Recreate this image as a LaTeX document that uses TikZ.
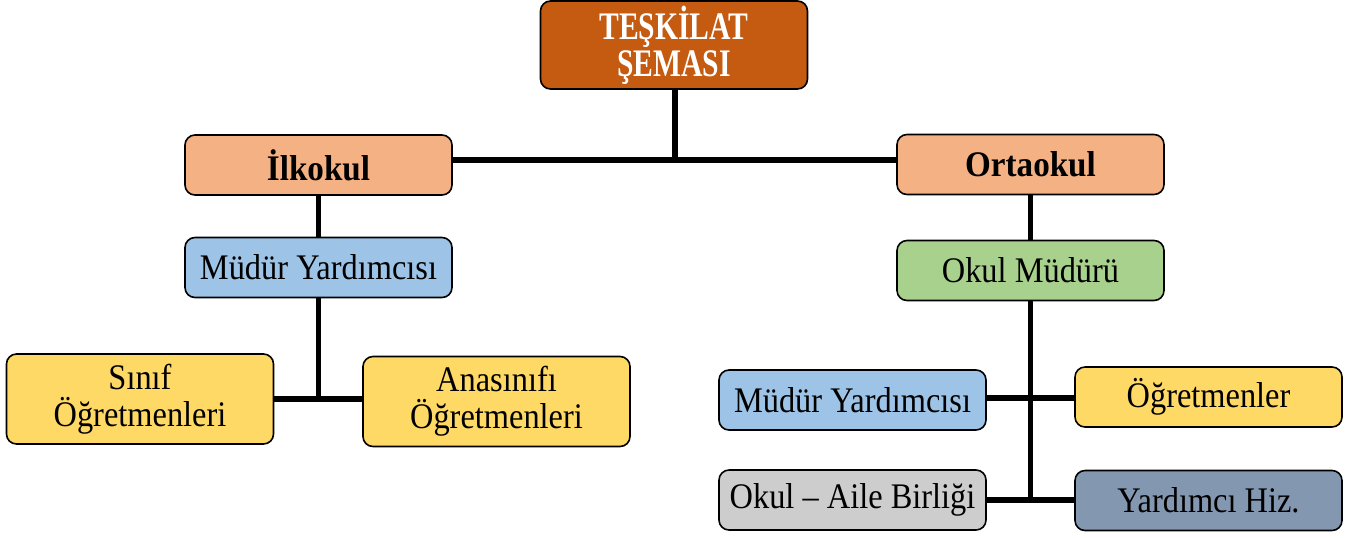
\documentclass[tikz,border=0pt]{standalone}
\usepackage{fontspec}
\setmainfont{Liberation Serif}
\newfontfamily\regf[FakeStretch=0.9]{Liberation Serif}
\newfontfamily\boldf[FakeStretch=0.92]{Liberation Serif}
\newfontfamily\capsb[FakeStretch=0.76]{Liberation Serif}
\definecolor{cTop}{HTML}{C55A11}
\definecolor{cOr}{HTML}{F4B183}
\definecolor{cBl}{HTML}{9DC3E6}
\definecolor{cYe}{HTML}{FFD966}
\definecolor{cGr}{HTML}{A9D18E}
\definecolor{cGy}{HTML}{CDCDCD}
\definecolor{cDb}{HTML}{8497B0}
\begin{document}
\begin{tikzpicture}[x=0.5pt,y=-0.5pt,
  box/.style={draw=black,line width=0.8pt,rounded corners=5pt,align=center,
    inner sep=0pt,minimum width=133.5pt,minimum height=30pt,
    font=\regf\fontsize{18}{18.5}\selectfont},
  bbox/.style={box,font=\boldf\fontsize{18}{18.5}\selectfont\bfseries},
  conn/.style={line width=2.6pt,draw=black}]
\useasboundingbox (0,0) rectangle (1358,537);
\node[box,fill=cTop,text=white,minimum height=44pt,font=\capsb\fontsize{19.5}{18.5}\selectfont\bfseries] (top) at (674,45) {TEŞKİLAT\\ŞEMASI};
\node[bbox,fill=cOr] (ilk) at (318.5,165) {İlkokul};
\node[box,fill=cBl] (mya) at (318.5,267.5) {Müdür Yardımcısı};
\node[box,fill=cYe,minimum height=45pt] (sin) at (140,399) {Sınıf\\Öğretmenleri};
\node[box,fill=cYe,minimum height=45pt] (ana) at (496.5,401.5) {Anasınıfı\\Öğretmenleri};
\node[bbox,fill=cOr] (ort) at (1030.5,164.5) {Ortaokul};
\node[box,fill=cGr] (okm) at (1030.5,270.5) {Okul Müdürü};
\node[box,fill=cBl] (myb) at (852.5,400) {Müdür Yardımcısı};
\node[box,fill=cYe] (ogr) at (1208.5,397) {Öğretmenler};
\node[box,fill=cGy] (oab) at (852.5,500) {Okul – Aile Birliği};
\node[box,fill=cDb] (yhz) at (1208.5,500.5) {Yardımcı Hiz.};
% connectors
\coordinate (j1) at (675,160);
\coordinate (j2) at (318.5,399);
\coordinate (j3) at (1030.5,398);
\coordinate (j4) at (1030.5,500);
\draw[conn] (top.south -| j1) -- (j1);
\draw[conn] (ilk.east |- j1) -- (ort.west |- j1);
\draw[conn] (ilk.south) -- (mya.north);
\draw[conn] (mya.south) -- (j2);
\draw[conn] (sin.east |- j2) -- (ana.west |- j2);
\draw[conn] (ort.south) -- (okm.north);
\draw[conn] (okm.south) -- (j4);
\draw[conn] (myb.east |- j3) -- (ogr.west |- j3);
\draw[conn] (oab.east |- j4) -- (yhz.west |- j4);
\end{tikzpicture}
\end{document}
